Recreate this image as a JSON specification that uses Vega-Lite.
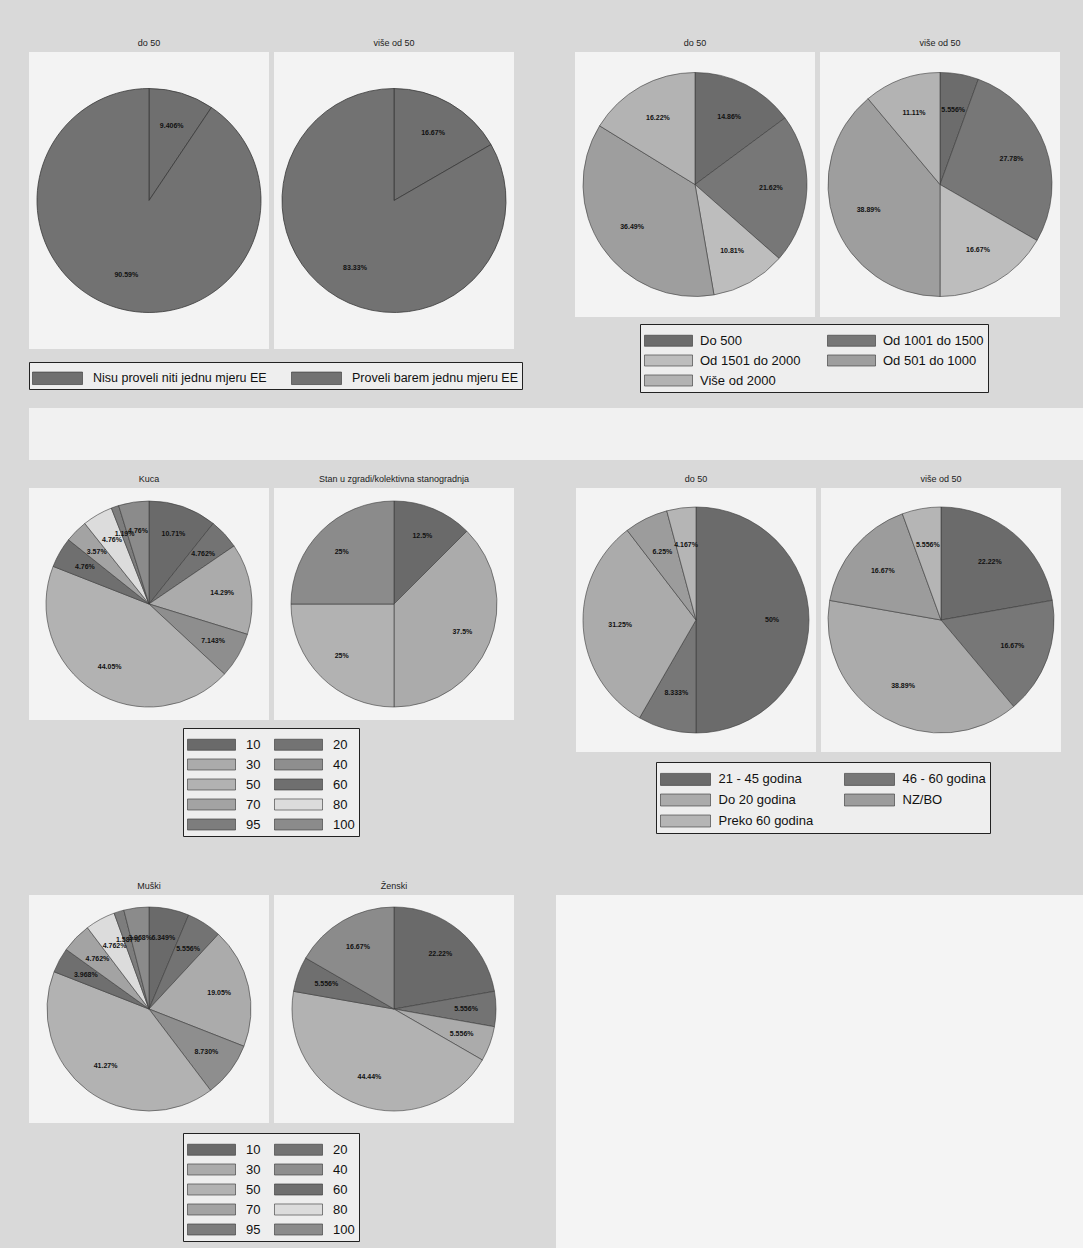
{
  "$schema": "https://vega.github.io/schema/vega-lite/v6.json",
  "background": "#d9d9d9",
  "padding": {"left": 28, "top": 39, "right": 0, "bottom": 0},
  "config": {
    "view": {"stroke": null},
    "font": "Liberation Sans",
    "header": {"title": null, "labelFont": "Liberation Sans", "labelFontSize": 9, "labelColor": "#222", "labelPadding": 4},
    "legend": {"title": null, "labelFont": "Liberation Sans", "labelFontSize": 13, "labelColor": "#111", "strokeColor": "#222", "fillColor": "#eeeeee", "padding": 4, "labelLimit": 400, "symbolStrokeColor": "#333", "symbolStrokeWidth": 0.6, "symbolOpacity": 1, "rowPadding": 0}
  },
  "datasets": {
    "p1": [
      {"g": "do 50", "c": "Nisu proveli niti jednu mjeru EE", "k": 1, "v": 9.406, "t": "9.406%"},
      {"g": "do 50", "c": "Proveli barem jednu mjeru EE", "k": 2, "v": 90.594, "t": "90.59%"},
      {"g": "više od 50", "c": "Nisu proveli niti jednu mjeru EE", "k": 1, "v": 16.67, "t": "16.67%"},
      {"g": "više od 50", "c": "Proveli barem jednu mjeru EE", "k": 2, "v": 83.33, "t": "83.33%"}
    ],
    "p2": [
      {"g": "do 50", "c": "Do 500", "k": 1, "v": 14.86, "t": "14.86%"},
      {"g": "do 50", "c": "Od 1001 do 1500", "k": 2, "v": 21.62, "t": "21.62%"},
      {"g": "do 50", "c": "Od 1501 do 2000", "k": 3, "v": 10.81, "t": "10.81%"},
      {"g": "do 50", "c": "Od 501 do 1000", "k": 4, "v": 36.49, "t": "36.49%"},
      {"g": "do 50", "c": "Više od 2000", "k": 5, "v": 16.22, "t": "16.22%"},
      {"g": "više od 50", "c": "Do 500", "k": 1, "v": 5.556, "t": "5.556%"},
      {"g": "više od 50", "c": "Od 1001 do 1500", "k": 2, "v": 27.78, "t": "27.78%"},
      {"g": "više od 50", "c": "Od 1501 do 2000", "k": 3, "v": 16.67, "t": "16.67%"},
      {"g": "više od 50", "c": "Od 501 do 1000", "k": 4, "v": 38.89, "t": "38.89%"},
      {"g": "više od 50", "c": "Više od 2000", "k": 5, "v": 11.11, "t": "11.11%"}
    ],
    "p3": [
      {"g": "Kuca", "c": "10", "k": 1, "v": 10.71, "t": "10.71%"},
      {"g": "Kuca", "c": "20", "k": 2, "v": 4.762, "t": "4.762%"},
      {"g": "Kuca", "c": "30", "k": 3, "v": 14.29, "t": "14.29%"},
      {"g": "Kuca", "c": "40", "k": 4, "v": 7.143, "t": "7.143%"},
      {"g": "Kuca", "c": "50", "k": 5, "v": 44.05, "t": "44.05%"},
      {"g": "Kuca", "c": "60", "k": 6, "v": 4.762, "t": "4.76%"},
      {"g": "Kuca", "c": "70", "k": 7, "v": 3.571, "t": "3.57%"},
      {"g": "Kuca", "c": "80", "k": 8, "v": 4.762, "t": "4.76%"},
      {"g": "Kuca", "c": "95", "k": 9, "v": 1.19, "t": "1.19%"},
      {"g": "Kuca", "c": "100", "k": 10, "v": 4.762, "t": "4.76%"},
      {"g": "Stan u zgradi/kolektivna stanogradnja", "c": "10", "k": 1, "v": 12.5, "t": "12.5%"},
      {"g": "Stan u zgradi/kolektivna stanogradnja", "c": "30", "k": 3, "v": 37.5, "t": "37.5%"},
      {"g": "Stan u zgradi/kolektivna stanogradnja", "c": "50", "k": 5, "v": 25, "t": "25%"},
      {"g": "Stan u zgradi/kolektivna stanogradnja", "c": "100", "k": 10, "v": 25, "t": "25%"}
    ],
    "p4": [
      {"g": "do 50", "c": "21 - 45 godina", "k": 1, "v": 50, "t": "50%"},
      {"g": "do 50", "c": "46 - 60 godina", "k": 2, "v": 8.333, "t": "8.333%"},
      {"g": "do 50", "c": "Do 20 godina", "k": 3, "v": 31.25, "t": "31.25%"},
      {"g": "do 50", "c": "NZ/BO", "k": 4, "v": 6.25, "t": "6.25%"},
      {"g": "do 50", "c": "Preko 60 godina", "k": 5, "v": 4.167, "t": "4.167%"},
      {"g": "više od 50", "c": "21 - 45 godina", "k": 1, "v": 22.22, "t": "22.22%"},
      {"g": "više od 50", "c": "46 - 60 godina", "k": 2, "v": 16.67, "t": "16.67%"},
      {"g": "više od 50", "c": "Do 20 godina", "k": 3, "v": 38.89, "t": "38.89%"},
      {"g": "više od 50", "c": "NZ/BO", "k": 4, "v": 16.67, "t": "16.67%"},
      {"g": "više od 50", "c": "Preko 60 godina", "k": 5, "v": 5.556, "t": "5.556%"}
    ],
    "p5": [
      {"g": "Muški", "c": "10", "k": 1, "v": 6.349, "t": "6.349%"},
      {"g": "Muški", "c": "20", "k": 2, "v": 5.556, "t": "5.556%"},
      {"g": "Muški", "c": "30", "k": 3, "v": 19.05, "t": "19.05%"},
      {"g": "Muški", "c": "40", "k": 4, "v": 8.73, "t": "8.730%"},
      {"g": "Muški", "c": "50", "k": 5, "v": 41.27, "t": "41.27%"},
      {"g": "Muški", "c": "60", "k": 6, "v": 3.968, "t": "3.968%"},
      {"g": "Muški", "c": "70", "k": 7, "v": 4.762, "t": "4.762%"},
      {"g": "Muški", "c": "80", "k": 8, "v": 4.762, "t": "4.762%"},
      {"g": "Muški", "c": "95", "k": 9, "v": 1.587, "t": "1.587%"},
      {"g": "Muški", "c": "100", "k": 10, "v": 3.968, "t": "3.968%"},
      {"g": "Ženski", "c": "10", "k": 1, "v": 22.22, "t": "22.22%"},
      {"g": "Ženski", "c": "20", "k": 2, "v": 5.556, "t": "5.556%"},
      {"g": "Ženski", "c": "30", "k": 3, "v": 5.556, "t": "5.556%"},
      {"g": "Ženski", "c": "50", "k": 5, "v": 44.44, "t": "44.44%"},
      {"g": "Ženski", "c": "60", "k": 6, "v": 5.556, "t": "5.556%"},
      {"g": "Ženski", "c": "100", "k": 10, "v": 16.67, "t": "16.67%"}
    ],
    "empty": []
  },
  "resolve": {"scale": {"color": "independent", "theta": "independent"}, "legend": {"color": "independent"}},
  "spacing": 15,
  "vconcat": [
    {
      "spacing": 52,
      "resolve": {"scale": {"color": "independent", "theta": "independent"}, "legend": {"color": "independent"}},
      "hconcat": [
        {
          "data": {"name": "p1"},
          "facet": {"column": {"field": "g", "type": "nominal", "sort": ["do 50", "više od 50"]}},
          "spacing": 5,
          "resolve": {"scale": {"theta": "independent"}},
          "spec": {
            "width": 240, "height": 297,
            "view": {"fill": "#f3f3f3", "stroke": null},
            "encoding": {
              "theta": {"field": "v", "type": "quantitative", "stack": true},
              "order": {"field": "k", "type": "quantitative"}
            },
            "layer": [
              {"mark": {"type": "arc", "outerRadius": 112, "stroke": "#3a3a3a", "strokeWidth": 0.8},
               "encoding": {"color": {"field": "c", "type": "nominal",
                 "scale": {"domain": ["Nisu proveli niti jednu mjeru EE", "Proveli barem jednu mjeru EE"], "range": ["#6f6f6f", "#727272"]},
                 "legend": {"orient": "none", "legendX": 0, "legendY": 310, "columns": 2, "columnPadding": 23, "padding": 3, "labelFontSize": 12.5, "symbolType": "M-2,-0.5H2V0.5H-2Z", "symbolSize": 625, "symbolOffset": 12.5, "labelOffset": 22.5}}}},
              {"mark": {"type": "text", "radius": 78, "fontSize": 7, "fontWeight": "bold", "color": "#111"},
               "encoding": {"detail": {"field": "c"}, "text": {"field": "t"}}}
            ]
          }
        },
        {
          "data": {"name": "p2"},
          "facet": {"column": {"field": "g", "type": "nominal", "sort": ["do 50", "više od 50"]}},
          "spacing": 5,
          "resolve": {"scale": {"theta": "independent"}},
          "spec": {
            "width": 240, "height": 265,
            "view": {"fill": "#f3f3f3", "stroke": null},
            "encoding": {
              "theta": {"field": "v", "type": "quantitative", "stack": true},
              "order": {"field": "k", "type": "quantitative"}
            },
            "layer": [
              {"mark": {"type": "arc", "outerRadius": 112, "stroke": "#3a3a3a", "strokeWidth": 0.6},
               "encoding": {"color": {"field": "c", "type": "nominal",
                 "scale": {"domain": ["Do 500", "Od 1501 do 2000", "Više od 2000", "Od 1001 do 1500", "Od 501 do 1000"], "range": ["#6c6c6c", "#bdbdbd", "#b3b3b3", "#777777", "#9e9e9e"]},
                 "legend": {"orient": "none", "legendX": 65, "legendY": 272, "columns": 2, "columnPadding": 25, "symbolType": "M-2,-0.46H2V0.46H-2Z", "symbolSize": 576, "symbolOffset": 12, "labelOffset": 19}}}},
              {"mark": {"type": "text", "radius": 76, "fontSize": 7, "fontWeight": "bold", "color": "#111"},
               "encoding": {"detail": {"field": "c"}, "text": {"field": "t"}}}
            ]
          }
        }
      ]
    },
    {
      "data": {"name": "empty"},
      "width": 1055, "height": 52,
      "view": {"fill": "#f1f1f1", "stroke": null},
      "mark": "point"
    },
    {
      "spacing": 45,
      "resolve": {"scale": {"color": "independent", "theta": "independent"}, "legend": {"color": "independent"}},
      "vconcat": [
        {
          "spacing": 62,
          "resolve": {"scale": {"color": "independent", "theta": "independent"}, "legend": {"color": "independent"}},
          "hconcat": [
            {
              "data": {"name": "p3"},
              "facet": {"column": {"field": "g", "type": "nominal", "sort": ["Kuca", "Stan u zgradi/kolektivna stanogradnja"]}},
              "spacing": 5,
              "resolve": {"scale": {"theta": "independent"}},
              "spec": {
                "width": 240, "height": 232,
                "view": {"fill": "#f3f3f3", "stroke": null},
                "encoding": {
                  "theta": {"field": "v", "type": "quantitative", "stack": true},
                  "order": {"field": "k", "type": "quantitative"}
                },
                "layer": [
                  {"mark": {"type": "arc", "outerRadius": 103, "stroke": "#3a3a3a", "strokeWidth": 0.6},
                   "encoding": {"color": {"field": "c", "type": "nominal",
                     "scale": {"domain": ["10", "30", "50", "70", "95", "20", "40", "60", "80", "100"], "range": ["#6a6a6a", "#ababab", "#b2b2b2", "#a3a3a3", "#7d7d7d", "#737373", "#8e8e8e", "#6f6f6f", "#dcdcdc", "#8b8b8b"]},
                     "legend": {"orient": "none", "legendX": 154, "legendY": 240, "columns": 2, "columnPadding": 12, "symbolType": "M-2,-0.46H2V0.46H-2Z", "symbolSize": 576, "symbolOffset": 12, "labelOffset": 22}}}},
                  {"mark": {"type": "text", "radius": 74, "fontSize": 7, "fontWeight": "bold", "color": "#111"},
                   "encoding": {"detail": {"field": "c"}, "text": {"field": "t"}}}
                ]
              }
            },
            {
              "data": {"name": "p4"},
              "facet": {"column": {"field": "g", "type": "nominal", "sort": ["do 50", "više od 50"]}},
              "spacing": 5,
              "resolve": {"scale": {"theta": "independent"}},
              "spec": {
                "width": 240, "height": 264,
                "view": {"fill": "#f3f3f3", "stroke": null},
                "encoding": {
                  "theta": {"field": "v", "type": "quantitative", "stack": true},
                  "order": {"field": "k", "type": "quantitative"}
                },
                "layer": [
                  {"mark": {"type": "arc", "outerRadius": 113, "stroke": "#3a3a3a", "strokeWidth": 0.6},
                   "encoding": {"color": {"field": "c", "type": "nominal",
                     "scale": {"domain": ["21 - 45 godina", "Do 20 godina", "Preko 60 godina", "46 - 60 godina", "NZ/BO"], "range": ["#6b6b6b", "#ababab", "#b5b5b5", "#777777", "#9c9c9c"]},
                     "legend": {"orient": "none", "legendX": 80, "legendY": 274, "columns": 2, "columnPadding": 29, "symbolType": "M-2,-0.48H2V0.48H-2Z", "symbolSize": 625, "symbolOffset": 12.5, "labelOffset": 20}}}},
                  {"mark": {"type": "text", "radius": 76, "fontSize": 7, "fontWeight": "bold", "color": "#111"},
                   "encoding": {"detail": {"field": "c"}, "text": {"field": "t"}}}
                ]
              }
            }
          ]
        },
        {
          "spacing": 42,
          "resolve": {"scale": {"color": "independent", "theta": "independent"}, "legend": {"color": "independent"}},
          "hconcat": [
            {
              "data": {"name": "p5"},
              "facet": {"column": {"field": "g", "type": "nominal", "sort": ["Muški", "Ženski"]}},
              "spacing": 5,
              "resolve": {"scale": {"theta": "independent"}},
              "spec": {
                "width": 240, "height": 228,
                "view": {"fill": "#f3f3f3", "stroke": null},
                "encoding": {
                  "theta": {"field": "v", "type": "quantitative", "stack": true},
                  "order": {"field": "k", "type": "quantitative"}
                },
                "layer": [
                  {"mark": {"type": "arc", "outerRadius": 102, "stroke": "#3a3a3a", "strokeWidth": 0.6},
                   "encoding": {"color": {"field": "c", "type": "nominal",
                     "scale": {"domain": ["10", "30", "50", "70", "95", "20", "40", "60", "80", "100"], "range": ["#6a6a6a", "#ababab", "#b2b2b2", "#a3a3a3", "#7d7d7d", "#737373", "#8e8e8e", "#6f6f6f", "#dcdcdc", "#8b8b8b"]},
                     "legend": {"orient": "none", "legendX": 154, "legendY": 238, "columns": 2, "columnPadding": 12, "symbolType": "M-2,-0.46H2V0.46H-2Z", "symbolSize": 576, "symbolOffset": 12, "labelOffset": 22}}}},
                  {"mark": {"type": "text", "radius": 72, "fontSize": 7, "fontWeight": "bold", "color": "#111"},
                   "encoding": {"detail": {"field": "c"}, "text": {"field": "t"}}}
                ]
              }
            },
            {
              "data": {"name": "empty"},
              "width": 528, "height": 380,
              "view": {"fill": "#f4f4f4", "stroke": null},
              "mark": "point"
            }
          ]
        }
      ]
    }
  ]
}
